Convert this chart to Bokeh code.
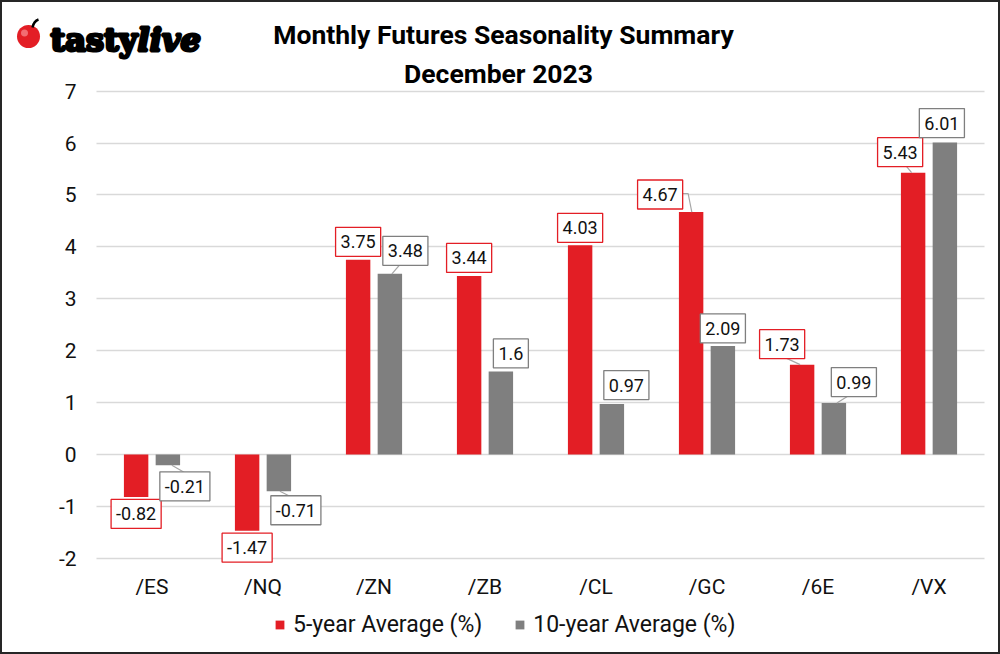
import numpy as np
from bokeh.plotting import figure
from bokeh.models import Range1d, FixedTicker, Label, Legend, LegendItem
from bokeh.core.properties import value
from bokeh.embed import file_html
from bokeh.resources import INLINE

# ---- data ----
categories = ["/ES", "/NQ", "/ZN", "/ZB", "/CL", "/GC", "/6E", "/VX"]
avg5 = [-0.82, -1.47, 3.75, 3.44, 4.03, 4.67, 1.73, 5.43]
avg10 = [-0.21, -0.71, 3.48, 1.6, 0.97, 2.09, 0.99, 6.01]
series_names = ["5-year Average (%)", "10-year Average (%)"]
y_ticks = [-2, -1, 0, 1, 2, 3, 4, 5, 6, 7]
title_lines = ["Monthly Futures Seasonality Summary", "December 2023"]
brand = ["tasty", "live"]

# ---- style / layout (pixels) ----
RED = "#E31E25"
GRAY = "#7F7F7F"
FONT = "Roboto"
LOGO_FONT = "DejaVu Serif"
TXT = "#111111"
W, H = 1000, 654
PLOT_LEFT_PX = 96          # page x of the category area's left edge
XPX = 111.0                # pixels per category
YPX = 467.0 / 9            # pixels per y unit
ZERO_PX = 557.7 - 2 * YPX  # page y of value 0


def X(px):
    return (px - PLOT_LEFT_PX) / XPX


def Y(py):
    return (ZERO_PX - py) / YPX


# label box offsets (pixels) from bar end
lab5_off = [(0, -17), (0, -17), (0, 18), (0, 18), (0, 17.5), (-31, 17.6), (-20, 20.5), (-13, 20.5)]
lab10_off = [(17, -21), (17, -19), (15.5, 23), (10, 18), (14.5, 19), (0, 17.5), (20, 21), (-3, 19.5)]
# leader lines (pixel offsets from bar end)
leaders5 = {5: [(-9, 18.6), (-3, 18.6), (0.7, 0)], 6: [(-17, 7), (-2, 0)], 7: [(-7.5, 7.2), (-1.5, 0)]}
leaders10 = {0: [(4, 0), (17, -7.4)], 1: [(1, 0), (14, -6.5)], 2: [(2, 0), (10.5, 9.7)], 6: [(3, 0), (15, 7.6)]}

p = figure(frame_width=W, frame_height=H, min_border=0,
           x_range=Range1d(X(0), X(W)), y_range=Range1d(Y(H), Y(0)),
           output_backend="svg", toolbar_location=None,
           background_fill_color="white", border_fill_color="white")
p.outline_line_color = "#262626"
p.outline_line_width = 3

# grid restricted to the plotting area
p.xgrid.visible = False
p.ygrid.ticker = FixedTicker(ticks=y_ticks)
p.ygrid.grid_line_color = "#D9D9D9"
p.ygrid.grid_line_width = 1.4
p.ygrid.cross_bounds = (0, len(categories))

idx = np.arange(len(categories))
DODGE = 0.143
BW = 0.22
x5 = idx + 0.5 - DODGE
x10 = idx + 0.5 + DODGE

r5 = p.vbar(x=x5, top=avg5, bottom=0, width=BW, fill_color=RED, line_color=None)
r10 = p.vbar(x=x10, top=avg10, bottom=0, width=BW, fill_color=GRAY, line_color=None)

# leader lines
for xs_, vals, leaders in ((x5, avg5, leaders5), (x10, avg10, leaders10)):
    for i, pts in leaders.items():
        lx = [xs_[i] + dx / XPX for dx, dy in pts]
        ly = [vals[i] + dy / YPX for dx, dy in pts]
        p.line(lx, ly, line_color="#A6A6A6", line_width=1.2)

# data labels
for xs_, vals, offs, col in ((x5, avg5, lab5_off, RED), (x10, avg10, lab10_off, GRAY)):
    for i, v in enumerate(vals):
        p.add_layout(Label(x=xs_[i], y=v, x_offset=offs[i][0], y_offset=offs[i][1], text=str(v),
                           text_align="center", text_baseline="middle", text_font=FONT,
                           text_font_size="18px", text_color=TXT, background_fill_color="white",
                           border_line_color=col, border_line_width=1.3, padding=(5, 8)))

# axes fixed at the plotting area's edges
p.xaxis.fixed_location = y_ticks[0]
p.yaxis.fixed_location = 0
p.yaxis.ticker = FixedTicker(ticks=y_ticks)
p.yaxis.major_label_overrides = {float(t): str(t) for t in y_ticks}
p.xaxis.ticker = FixedTicker(ticks=list(idx + 0.5))
p.xaxis.major_label_overrides = {float(i + 0.5): c for i, c in enumerate(categories)}
for ax in (p.xaxis, p.yaxis):
    ax.axis_line_color = None
    ax.major_tick_line_color = None
    ax.minor_tick_line_color = None
    ax.major_tick_out = 0
    ax.major_tick_in = 0
    ax.minor_tick_out = 0
    ax.major_label_text_font = FONT
    ax.major_label_text_font_size = "21px"
    ax.major_label_text_color = TXT
p.yaxis.major_label_standoff = 20
p.xaxis.major_label_standoff = 17

# legend
legend = Legend(items=[LegendItem(label=series_names[0], renderers=[r5]),
                       LegendItem(label=series_names[1], renderers=[r10])],
                location=(274, 16), orientation="horizontal", glyph_width=11, glyph_height=11,
                label_standoff=8, spacing=32, padding=0, margin=0, border_line_color=None,
                background_fill_alpha=0, label_text_font=FONT, label_text_font_size="23px",
                label_text_color=TXT, label_height=24)
p.add_layout(legend)

# titles
p.text(x=[X(503)], y=[Y(33.5)], text=[title_lines[0]], text_font=value(FONT), text_font_style="bold",
       text_font_size="26.5px", text_align="center", text_baseline="alphabetic", text_color="black")
p.text(x=[X(498)], y=[Y(72.5)], text=[title_lines[1]], text_font=value(FONT), text_font_style="bold",
       text_font_size="26.5px", text_align="center", text_baseline="alphabetic", text_color="black")

# logo
p.scatter(x=[X(28)], y=[Y(36)], size=23, marker="circle", fill_color=RED, line_color=None)
p.scatter(x=[X(24)], y=[Y(32.5)], size=7, marker="circle", fill_color="#F26D72", line_color=None)
p.bezier(x0=[X(32)], y0=[Y(27)], x1=[X(38)], y1=[Y(19)], cx0=[X(33)], cy0=[Y(22)],
         cx1=[X(35)], cy1=[Y(20)], line_color="black", line_width=2.5)
p.text(x=[X(50)], y=[Y(39)], text=[brand[0]], text_font=value(LOGO_FONT), text_font_style="bold",
       text_font_size="32px", text_align="left", text_baseline="alphabetic", text_color="black",
       text_outline_color="black")
p.text(x=[X(137)], y=[Y(39)], text=[brand[1]], text_font=value(LOGO_FONT),
       text_font_style="bold italic", text_font_size="32px", text_align="left",
       text_baseline="alphabetic", text_color="black", text_outline_color="black")

open("out.html", "w").write(file_html(p, INLINE))
